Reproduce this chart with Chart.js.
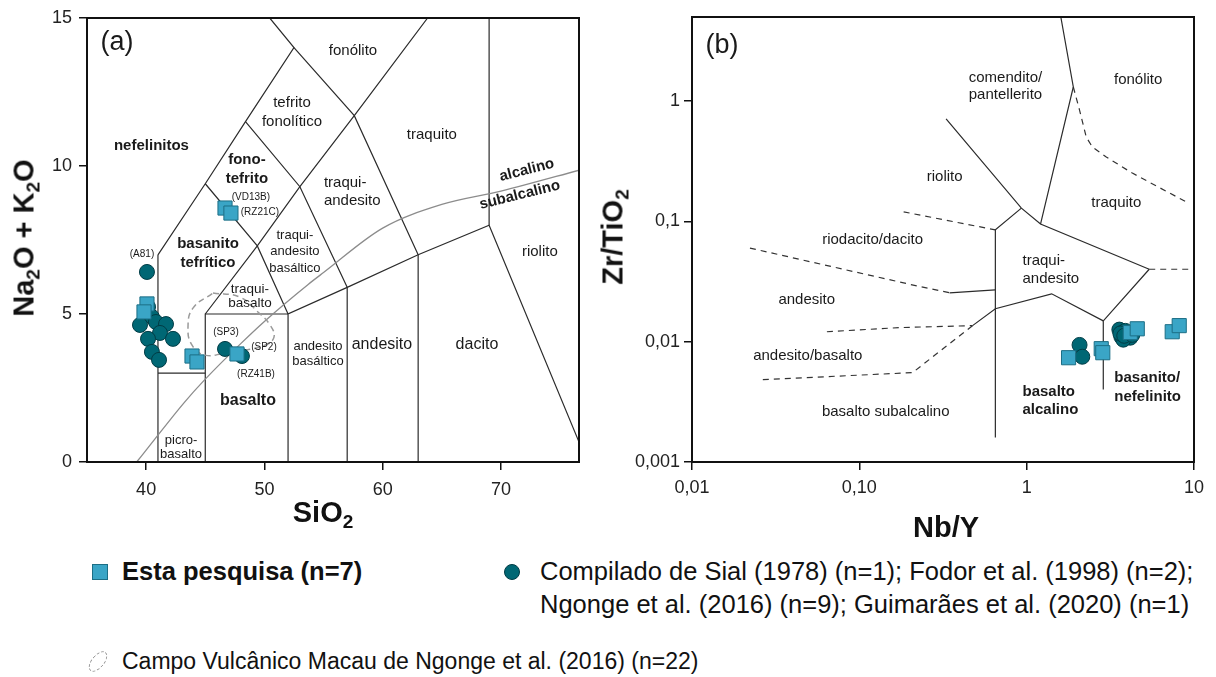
<!DOCTYPE html>
<html lang="pt">
<head>
<meta charset="utf-8">
<title>Diagramas TAS e Nb/Y x Zr/TiO2</title>
<script src="https://cdn.jsdelivr.net/npm/chart.js@4.4.1/dist/chart.umd.min.js"></script>
<style>
  html, body { margin: 0; padding: 0; background: #fff; }
  #page { position: relative; width: 1216px; height: 677px; overflow: hidden;
          font-family: 'Liberation Sans', Arial, sans-serif; color: #111; }
  canvas { position: absolute; top: 0; }
  #tas { left: 0; }
  #wf { left: 600px; }
  .title { position: absolute; font-weight: bold; font-size: 29px; white-space: nowrap; line-height: 1; }
  .title sub { font-size: 19px; vertical-align: -6px; line-height: 0; }
  .vert { transform: translate(-50%, -50%) rotate(-90deg); }
  .horiz { transform: translate(-50%, -50%); }
  .leg { position: absolute; font-size: 25.5px; white-space: nowrap; line-height: 33px; }
  .ico { position: absolute; box-sizing: border-box; }
</style>
</head>
<body>
<div id="page">
  <canvas id="tas" width="600" height="540"></canvas>
  <canvas id="wf" width="616" height="540"></canvas>

  <div class="title vert" style="left:24px; top:238px;">Na<sub>2</sub>O + K<sub>2</sub>O</div>
  <div class="title horiz" style="left:323px; top:512px;">SiO<sub>2</sub></div>
  <div class="title vert" style="left:613px; top:237px;">Zr/TiO<sub>2</sub></div>
  <div class="title horiz" style="left:946px; top:527px;">Nb/Y</div>

  <div class="ico" style="left:92px; top:564px; width:16px; height:16px; background:#3aa5c6; border:1px solid #1c6e85;"></div>
  <div class="leg" style="left:122px; top:555px; font-weight:bold;">Esta pesquisa (n=7)</div>
  <div class="ico" style="left:504px; top:564px; width:16px; height:16px; border-radius:50%; background:#006774; border:1px solid #003c45;"></div>
  <div class="leg" style="left:540px; top:555px;">Compilado de Sial (1978) (n=1); Fodor et al. (1998) (n=2);<br>Ngonge et al. (2016) (n=9); Guimarães et al. (2020) (n=1)</div>
  <div class="ico" style="left:86px; top:655px; width:24px; height:13px; border-radius:50%; border:1.5px dashed #999; transform:rotate(-50deg);"></div>
  <div class="leg" style="left:122px; top:645px; font-size:23px;">Campo Vulcânico Macau de Ngonge et al. (2016) (n=22)</div>
</div>

<script>
// ---- (a) TAS: SiO2 vs Na2O + K2O ----
var tasSquareSiO2 = [46.67, 47.17, 40.07, 39.82, 43.88, 44.30, 47.68];
var tasSquareAlk  = [8.58, 8.41, 5.34, 5.07, 3.58, 3.38, 3.65];
var tasCircleSiO2 = [40.07, 40.16, 40.49, 40.83, 39.48, 41.68, 41.17, 40.16, 42.27, 40.49, 41.09, 46.67, 48.10];
var tasCircleAlk  = [6.42, 5.24, 4.90, 4.73, 4.63, 4.66, 4.36, 4.16, 4.16, 3.72, 3.45, 3.82, 3.58];

// contorno do Campo Vulcanico Macau
var macauSiO2 = [45.65, 47.93, 49.45, 50.47, 50.81, 50.05, 48.36, 46.67, 44.97, 43.88, 43.54, 43.96, 45.65];
var macauAlk  = [5.71, 5.57, 5.07, 4.63, 4.22, 3.95, 3.78, 3.68, 3.61, 3.95, 4.56, 5.20, 5.71];

// limites dos campos (Le Bas et al., 1986)
var tasFields = [
  [[41, 0], [41, 7]],
  [[41, 3], [45, 3]],
  [[45, 0], [45, 5], [52, 5]],
  [[52, 0], [52, 5], [57, 5.9], [63, 7], [69, 8], [77.3, 0]],
  [[57, 0], [57, 5.9]],
  [[63, 0], [63, 7]],
  [[69, 8], [69, 15]],
  [[41, 7], [45, 9.4], [48.4, 11.5], [52.5, 14], [50.45, 15]],
  [[45, 5], [49.4, 7.3], [53, 9.3], [57.6, 11.7], [63.8, 15]],
  [[45, 9.4], [49.4, 7.3], [52, 5]],
  [[48.4, 11.5], [53, 9.3], [57, 5.9]],
  [[52.5, 14], [57.6, 11.7], [63, 7]]
];
// alcalino / subalcalino (Irvine & Baragar, 1971)
var alkCurveSiO2 = [39.2, 40, 43.2, 45, 48, 50, 53.7, 55, 60, 65, 70, 77];
var alkCurveAlk  = [0, 0.4, 2.0, 2.8, 4.0, 4.75, 6.0, 6.4, 7.9, 8.7, 9.15, 9.9];

var tasXTicks = [40, 50, 60, 70];
var tasYTicks = [0, 5, 10, 15];

// ---- (b) Nb/Y vs Zr/TiO2 ----
var wfSquareNbY = [1.78, 2.79, 2.85, 4.16, 4.58, 7.41, 8.16];
var wfSquareZrTi = [0.00736, 0.00875, 0.0081, 0.0119, 0.0128, 0.0121, 0.0136];
var wfCircleNbY = [2.07, 2.15, 3.58, 3.73, 3.89, 3.68, 3.94, 4.16, 3.78, 4.05, 3.63, 3.83, 4.28];
var wfCircleZrTi = [0.0094, 0.0075, 0.0126, 0.0119, 0.0123, 0.0110, 0.0110, 0.0108, 0.0104, 0.0117, 0.0117, 0.0112, 0.0114];

// limites (Winchester & Floyd, 1977)
var wfSolid = [
  [[1.6, 5], [1.9, 1.31], [1.21, 0.095]],
  [[0.33, 0.71], [0.93, 0.129], [1.21, 0.095], [5.4, 0.04]],
  [[0.93, 0.129], [0.65, 0.085], [0.65, 0.0016]],
  [[5.4, 0.04], [2.87, 0.0149], [2.87, 0.004]],
  [[2.87, 0.0149], [1.41, 0.025], [0.65, 0.0188], [0.475, 0.0136]],
  [[0.346, 0.0255], [0.65, 0.027]]
];
var wfDashed = [
  [[1.9, 1.31], [2.07, 0.842], [2.27, 0.503], [2.47, 0.415], [2.99, 0.343], [4.28, 0.252], [9.0, 0.145]],
  [[0.184, 0.12], [0.65, 0.085]],
  [[0.0222, 0.06], [0.2, 0.03], [0.346, 0.0255]],
  [[0.064, 0.0121], [0.174, 0.0131], [0.475, 0.0136]],
  [[0.0265, 0.00484], [0.208, 0.00553], [0.475, 0.0136]],
  [[5.4, 0.04], [10, 0.04]]
];

var wfXTicks = [0.01, 0.1, 1, 10];
var wfXLabels = ['0,01', '0,10', '1', '10'];
var wfYTicks = [0.001, 0.01, 0.1, 1];
var wfYLabels = ['0,001', '0,01', '0,1', '1'];

// nomes dos campos e das amostras
var tasNames = [
  { t: '(a)', x: 37.54, y: 14.16, size: 27 },
  { t: 'fonólito', x: 57.49, y: 13.89 },
  { t: 'tefrito', x: 52.33, y: 12.13 },
  { t: 'fonolítico', x: 52.33, y: 11.49 },
  { t: 'nefelinitos', x: 40.45, y: 10.68, bold: true },
  { t: 'fono-', x: 48.52, y: 10.2, bold: true },
  { t: 'tefrito', x: 48.52, y: 9.56, bold: true },
  { t: 'traquito', x: 64.16, y: 11.05 },
  { t: 'traqui-', x: 55.03, y: 9.43, align: 'left' },
  { t: 'andesito', x: 55.03, y: 8.82, align: 'left' },
  { t: 'alcalino', x: 72.19, y: 9.86, bold: true, rot: -14 },
  { t: 'subalcalino', x: 71.6, y: 9.02, bold: true, rot: -14 },
  { t: 'riolito', x: 73.29, y: 7.09 },
  { t: 'traqui-', x: 52.58, y: 7.67, size: 13 },
  { t: 'andesito', x: 52.58, y: 7.13, size: 13 },
  { t: 'basáltico', x: 52.58, y: 6.55, size: 13 },
  { t: 'traqui-', x: 48.78, y: 5.84, size: 13.5 },
  { t: 'basalto', x: 48.78, y: 5.37, size: 13.5 },
  { t: 'basanito', x: 45.23, y: 7.36, bold: true },
  { t: 'tefrítico', x: 45.23, y: 6.72, bold: true },
  { t: 'basalto', x: 48.61, y: 2.06, bold: true, size: 16 },
  { t: 'picro-', x: 42.95, y: 0.74, size: 13 },
  { t: 'basalto', x: 42.95, y: 0.27, size: 13 },
  { t: 'andesito', x: 54.53, y: 3.89, size: 13 },
  { t: 'basáltico', x: 54.53, y: 3.41, size: 13 },
  { t: 'andesito', x: 59.94, y: 3.95, size: 16 },
  { t: 'dacito', x: 67.97, y: 3.95, size: 16 },
  { t: '(A81)', x: 39.65, y: 7.03, size: 10 },
  { t: '(VD13B)', x: 48.86, y: 8.95, size: 10 },
  { t: '(RZ21C)', x: 49.62, y: 8.45, size: 10 },
  { t: '(SP3)', x: 46.75, y: 4.39, size: 10 },
  { t: '(SP2)', x: 49.96, y: 3.89, size: 10 },
  { t: '(RZ41B)', x: 49.29, y: 2.97, size: 10 }
];
var wfNames = [
  { t: '(b)', x: 0.0151, y: 2.915, size: 27 },
  { t: 'comendito/', x: 0.747, y: 1.552 },
  { t: 'pantellerito', x: 0.747, y: 1.121 },
  { t: 'fonólito', x: 4.64, y: 1.494 },
  { t: 'riolito', x: 0.3236, y: 0.234 },
  { t: 'traquito', x: 3.435, y: 0.1424 },
  { t: 'riodacito/dacito', x: 0.120, y: 0.0702 },
  { t: 'traqui-', x: 0.944, y: 0.047, align: 'left' },
  { t: 'andesito', x: 0.944, y: 0.0333, align: 'left' },
  { t: 'andesito', x: 0.0485, y: 0.02232 },
  { t: 'andesito/basalto', x: 0.0492, y: 0.00766 },
  { t: 'basalto subalcalino', x: 0.1437, y: 0.00262 },
  { t: 'basalto', x: 0.944, y: 0.003846, align: 'left', bold: true },
  { t: 'alcalino', x: 0.944, y: 0.00273, align: 'left', bold: true },
  { t: 'basanito/', x: 3.34, y: 0.00503, align: 'left', bold: true },
  { t: 'nefelinito', x: 3.34, y: 0.0035, align: 'left', bold: true }
];

var FONT = "'Liberation Sans', Arial, sans-serif";

function pts(xs, ys) {
  return xs.map(function (x, i) { return { x: x, y: ys[i] }; });
}
function seg(list) {
  return list.map(function (p) { return { x: p[0], y: p[1] }; });
}

function lineSet(points, opts) {
  return Object.assign({
    data: points, showLine: true, pointRadius: 0, borderColor: '#2b2b2b',
    borderWidth: 1.2, fill: false, order: 3
  }, opts || {});
}

function squareSet(points) {
  return { data: points, pointStyle: 'rect', pointRadius: 10, backgroundColor: '#3aa5c6',
           borderColor: '#1c6e85', borderWidth: 1, order: 0 };
}
function circleSet(points) {
  return { data: points, pointStyle: 'circle', pointRadius: 7.5, backgroundColor: '#006774',
           borderColor: '#003c45', borderWidth: 1, order: 1 };
}

// texto dos campos + moldura do grafico
var fieldText = {
  id: 'fieldText',
  afterDatasetsDraw: function (chart, args, opts) {
    var ctx = chart.ctx, xs = chart.scales.x, ys = chart.scales.y, a = chart.chartArea;
    opts.items.forEach(function (it) {
      ctx.save();
      ctx.font = (it.bold ? 'bold ' : '') + (it.size || 15) + 'px ' + FONT;
      ctx.fillStyle = '#1a1a1a';
      ctx.textAlign = it.align || 'center';
      ctx.textBaseline = 'middle';
      ctx.translate(xs.getPixelForValue(it.x), ys.getPixelForValue(it.y));
      if (it.rot) ctx.rotate(it.rot * Math.PI / 180);
      ctx.fillText(it.t, 0, 0);
      ctx.restore();
    });
    ctx.save();
    ctx.strokeStyle = '#111';
    ctx.lineWidth = 2;
    ctx.strokeRect(a.left, a.top, a.right - a.left, a.bottom - a.top);
    ctx.restore();
  }
};

function axis(type, min, max, tickVals, labels, size, pad) {
  return {
    type: type, min: min, max: max, bounds: 'data',
    afterBuildTicks: function (s) { s.ticks = tickVals.map(function (v) { return { value: v }; }); },
    afterFit: function (s) { if (s.isHorizontal()) s.height = size; else s.width = size; },
    grid: { drawOnChartArea: false, drawTicks: true, tickLength: 8, color: '#111', lineWidth: 1.5 },
    border: { display: true, color: '#111', width: 2 },
    ticks: {
      font: { family: FONT, size: 18 }, color: '#222', padding: pad, maxRotation: 0, autoSkip: false,
      callback: function (v) {
        var i = tickVals.indexOf(v);
        return labels ? (i >= 0 ? labels[i] : '') : String(v);
      }
    }
  };
}

var baseOpts = {
  responsive: false, animation: false, events: [],
  plugins: { legend: { display: false }, tooltip: { enabled: false } }
};

// (a)
var tasSets = [squareSet(pts(tasSquareSiO2, tasSquareAlk)), circleSet(pts(tasCircleSiO2, tasCircleAlk))];
tasSets.push(lineSet(pts(macauSiO2, macauAlk), { borderColor: '#9a9a9a', borderWidth: 1.5, borderDash: [6, 4], tension: 0.45, order: 2 }));
tasSets.push(lineSet(pts(alkCurveSiO2, alkCurveAlk), { borderColor: '#8c8c8c', borderWidth: 1.3, cubicInterpolationMode: 'monotone' }));
tasFields.forEach(function (f) { tasSets.push(lineSet(seg(f))); });

new Chart(document.getElementById('tas'), {
  type: 'scatter',
  data: { datasets: tasSets },
  options: Object.assign({}, baseOpts, {
    layout: { padding: { top: 18, right: 21, left: 0, bottom: 0 } },
    scales: {
      x: axis('linear', 35, 76.6, tasXTicks, null, 78, 9),
      y: axis('linear', 0, 15, tasYTicks, null, 87, 7)
    },
    plugins: Object.assign({}, baseOpts.plugins, { fieldText: { items: tasNames } })
  }),
  plugins: [fieldText]
});

// (b)
var wfSets = [squareSet(pts(wfSquareNbY, wfSquareZrTi)), circleSet(pts(wfCircleNbY, wfCircleZrTi))];
wfSolid.forEach(function (f) { wfSets.push(lineSet(seg(f))); });
wfDashed.forEach(function (f) { wfSets.push(lineSet(seg(f), { borderDash: [6, 5], borderColor: '#333' })); });

new Chart(document.getElementById('wf'), {
  type: 'scatter',
  data: { datasets: wfSets },
  options: Object.assign({}, baseOpts, {
    layout: { padding: { top: 17, right: 22, left: 0, bottom: 0 } },
    scales: {
      x: axis('logarithmic', 0.01, 10, wfXTicks, wfXLabels, 78, 7),
      y: axis('logarithmic', 0.001, 5, wfYTicks, wfYLabels, 92, 4)
    },
    plugins: Object.assign({}, baseOpts.plugins, { fieldText: { items: wfNames } })
  }),
  plugins: [fieldText]
});
</script>
</body>
</html>
